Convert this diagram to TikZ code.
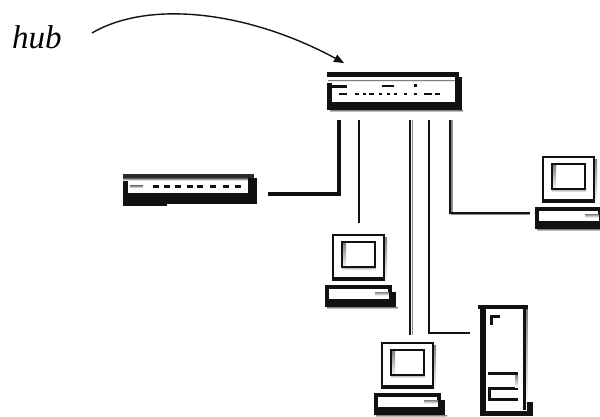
\documentclass[tikz,border=0pt]{standalone}
\usepackage{fontspec}
\setmainfont{Liberation Serif}
\usetikzlibrary{arrows.meta}

\definecolor{ink}{HTML}{111111}
\definecolor{shade}{HTML}{8C8C8C}
\definecolor{darkbar}{HTML}{2A2A2A}

\tikzset{
  anchorbox/.style={draw=none, fill=none, inner sep=0pt, outer sep=0pt, rectangle},
  link/.style={draw=ink, line width=2pt},
  linkshade/.style={draw=shade, line width=1.6pt},
  callout/.style={draw=ink, line width=1.4pt, -{Triangle[length=10pt, width=8pt]}},
  pc/.pic={
    % monitor
    \draw[ink, line width=2.2pt] (0,0) rectangle (51,43);
    \fill[ink] (-1,42) rectangle (52,46);
    \fill[shade] (52,2) rectangle (54,46);
    % screen
    \fill[shade] (9,8) rectangle (13,34);
    \fill[shade] (9,31) rectangle (43,35);
    \draw[ink, line width=1.8pt] (9,7) rectangle (42,32);
    % keyboard base
    \fill[ink] (-8,50) rectangle (58,53.5);
    \fill[ink] (-8,50) rectangle (-4,72);
    \fill[ink] (-8,64) rectangle (63,72);
    \fill[shade] (-6,72) rectangle (65,74);
    \fill[ink] (55,50) rectangle (58.5,57);
    \fill[shade] (42,57) rectangle (56,60.5);
    \fill[ink] (56,57) rectangle (63,72);
  }
}

\begin{document}
\begin{tikzpicture}[x=1pt, y=-1pt]
\useasboundingbox (0,0) rectangle (600,416);
\clip (0,0) rectangle (600,416);
\fill[white] (0,0) rectangle (600,416);

% ---------- label and callout arrow ----------
\node[anchor=base west, inner sep=0pt, font=\fontsize{33}{38}\selectfont\itshape] (lbl) at (12,48) {hub};
\coordinate (tail) at (92,33);
\coordinate (hubtip) at (344,63);
\draw[callout] (tail) .. controls (150,-1) and (250,12) .. (hubtip);

% ---------- hub ----------
\node[anchorbox, minimum width=136pt, minimum height=39pt] (hub) at (395,91.5) {};
\fill[ink] (327,72) rectangle (459,76.5);
\fill[shade] (328,80) rectangle (457,81.2);
\fill[ink] (327,83) rectangle (331.5,110);
\fill[ink] (329,84.5) rectangle (347,87.5);
\fill[ink] (327,101.5) rectangle (462,110);
\fill[shade] (330,110) rectangle (463,112);
\fill[ink] (455,77) rectangle (462,110);
% port lamps
\fill[ink] (339,92.5) rectangle (347,95);
\foreach \px/\pw in {355/4,363/3,369/5,379/3,387/3,394/3,404/3,414/3,424/8,435/5}
  \fill[ink] (\px,92.5) rectangle (\px+\pw,95);
\fill[ink] (382,84.5) rectangle (394,87);
\fill[ink] (414,83.5) rectangle (417,87);

% ---------- small switch ----------
\node[anchorbox, minimum width=145pt, minimum height=40pt] (sw) at (195.5,194) {};
\fill[darkbar] (123,174) rectangle (254,177.5);
\fill[shade] (123,178.5) rectangle (254,180.5);
\fill[ink] (123,181) rectangle (128,206);
\fill[ink] (123,193) rectangle (257,204);
\fill[ink] (123,204) rectangle (167,206);
\fill[ink] (248,178) rectangle (257,204);
\fill[shade] (130,185.5) rectangle (143,188);
\foreach \px in {153,164,175,187,197,210,223,235}
  \fill[ink] (\px,185) rectangle (\px+6,188);

% ---------- workstations ----------
\pic at (333,235) {pc};
\pic at (543,157) {pc};
\pic at (382,343) {pc};
\node[anchorbox, minimum width=68pt, minimum height=86pt, anchor=north] (pc1) at (359,223) {};
\node[anchorbox, minimum width=66pt, minimum height=81pt, anchor=north] (pc3) at (410,335) {};
\node[anchorbox, minimum width=70pt, minimum height=76pt, anchor=west] (pc2) at (530,213) {};

% ---------- server tower ----------
\node[anchorbox, minimum width=64pt, minimum height=166pt, anchor=west] (srv) at (470,333) {};
\fill[ink] (478,304.5) rectangle (528,309);
\fill[ink] (480,305) rectangle (486,416);
\fill[ink] (522.5,309) rectangle (526,410);
\fill[shade] (526,309) rectangle (527.5,404);
\fill[ink] (480,411) rectangle (533,416);
\fill[ink] (527,402) rectangle (533,416);
\fill[ink] (490,314.5) rectangle (500,317.5);
\fill[ink] (490,314.5) rectangle (493,325);
\fill[ink] (488,372) rectangle (518,375);
\fill[ink] (488,387) rectangle (518,390);
\fill[ink] (488,398) rectangle (518,401);
\fill[shade] (515,375) rectangle (518,387);
\fill[ink] (488,390) rectangle (491,401);

% ---------- cabling ----------
\coordinate (h1) at (339,120);
\coordinate (h2) at (359,120);
\coordinate (h3) at (410,120);
\coordinate (h4) at (429,120);
\coordinate (h5) at (449.5,120);

\draw[link, line width=4pt] (h1) |- (sw.east);
\draw[link] (h2) -- (pc1.north);
\draw[linkshade] ([xshift=2.5pt]h3) -- ([xshift=2.5pt]pc3.north);
\draw[link, line width=2.6pt] (h3) -- (pc3.north);
\draw[link] (h4) |- (srv.west);
\draw[linkshade] ([xshift=2.2pt]h5) |- ([yshift=-1.5pt]pc2.west);
\draw[link] (h5) |- (pc2.west);
\end{tikzpicture}
\end{document}
